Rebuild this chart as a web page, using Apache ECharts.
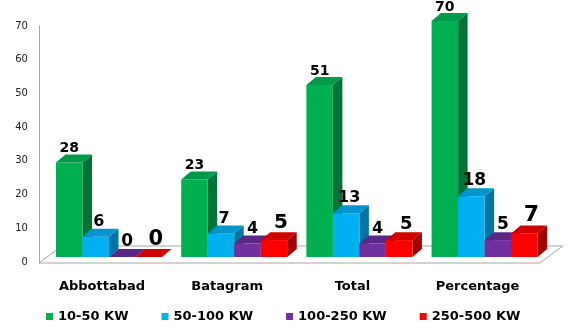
<!DOCTYPE html>
<html>
<head>
<meta charset="utf-8">
<script src="https://cdn.jsdelivr.net/npm/echarts@6/dist/echarts.min.js"></script>
<style>
html,body{margin:0;padding:0;background:#fff;}
#chart{width:570px;height:333px;}
</style>
</head>
<body>
<div id="chart"></div>
<script>
// ---- data ----
const categories = ['Abbottabad', 'Batagram', 'Total', 'Percentage'];
const seriesNames = ['10-50 KW', '50-100 KW', '100-250 KW', '250-500 KW'];
const kw10_50 = [28, 23, 51, 70];
const kw50_100 = [6, 7, 13, 18];
const kw100_250 = [0, 4, 4, 5];
const kw250_500 = [0, 5, 5, 7];
const yMin = 0, yMax = 70, yStep = 10;

// ---- styles ----
const seriesValues = [kw10_50, kw50_100, kw100_250, kw250_500];
const frontColors = ['#00B050', '#00B0F0', '#7030A0', '#FF0000'];
const topColors = ['#00994A', '#0095CC', '#5C2786', '#D00000'];
const sideColors = ['#007437', '#0074A2', '#48206C', '#A00000'];
const labelSizes = [[14, 14, 14, 14], [16, 16, 16, 17], [17, 16, 16, 17], [21, 20, 18, 22]];
const labelShift = [0, 3, 5, 7];
const FONT = '"DejaVu Sans", Verdana, sans-serif';
const DX = 9.5, DY = -8, BASE_SHIFT = -5;

function makeRender(s) {
  return function (params, api) {
    const i = api.value(0), v = api.value(1);
    const band = api.size([1, 0])[0];
    const bw = band * 0.2117;
    const c0 = api.coord([i, 0]);
    const x0 = c0[0] - bw * 2 + s * bw;
    const yb = c0[1] + BASE_SHIFT;
    const yt = api.coord([i, v])[1] + BASE_SHIFT;
    const x1 = x0 + bw;
    return {
      type: 'group',
      children: [
        { type: 'polygon', shape: { points: [[x1, yt], [x1 + DX, yt + DY], [x1 + DX, yb + DY], [x1, yb]] },
          style: { fill: sideColors[s] } },
        { type: 'rect', shape: { x: x0, y: yt, width: bw, height: yb - yt },
          style: { fill: frontColors[s] } },
        { type: 'polygon', shape: { points: [[x0, yt], [x1, yt], [x1 + DX, yt + DY], [x0 + DX, yt + DY]] },
          style: { fill: topColors[s] } },
        { type: 'text', z2: 100,
          style: { text: String(v), x: x0 + bw / 2 + labelShift[s], y: yt + DY + 1,
            align: 'center', verticalAlign: 'bottom',
            font: 'bold ' + labelSizes[s][i] + 'px ' + FONT, fill: '#000' } }
      ]
    };
  };
}

function floorRender(params, api) {
  const cs = params.coordSys;
  const L = cs.x - 7.5, R = cs.x + cs.width - 7.5, F = cs.y + cs.height + 1;
  return {
    type: 'polygon',
    shape: { points: [[L, F], [R, F], [R + 23, F - 17], [L + 23, F - 17]] },
    style: { fill: '#fff', stroke: '#A6A6A6', lineWidth: 1 }
  };
}

const series = [{
  type: 'custom', name: 'floor', silent: true, z: 1,
  renderItem: floorRender, data: [[0, 0]]
}];
seriesNames.forEach(function (n, s) {
  series.push({
    type: 'custom', name: n, z: 2 + s,
    itemStyle: { color: frontColors[s] },
    renderItem: makeRender(s),
    data: seriesValues[s].map(function (v, i) { return [i, v]; })
  });
});

const chart = echarts.init(document.getElementById('chart'), null, { renderer: 'canvas' });
chart.setOption({
  animation: false,
  backgroundColor: '#fff',
  grid: { left: 46.4, right: 22.8, top: 26, bottom: 71 },
  xAxis: {
    type: 'category', data: categories,
    axisLine: { show: false }, axisTick: { show: false }, splitLine: { show: false },
    axisLabel: { margin: 18, padding: [0, 14, 0, 0], color: '#000', fontWeight: 'bold', fontSize: 13, fontFamily: FONT }
  },
  yAxis: {
    type: 'value', min: yMin, max: yMax, interval: yStep, offset: 7.5,
    axisLine: { show: true, lineStyle: { color: '#A6A6A6', width: 1 } },
    axisTick: { show: false }, splitLine: { show: false },
    axisLabel: { margin: 11, color: '#222', fontSize: 10, fontFamily: FONT }
  },
  legend: {
    data: seriesNames, left: 41, top: 305, itemWidth: 7, itemHeight: 7, itemGap: 33,
    icon: 'rect',
    textStyle: { color: '#000', fontWeight: 'bold', fontSize: 13, fontFamily: FONT }
  },
  series: series
});
</script>
</body>
</html>
